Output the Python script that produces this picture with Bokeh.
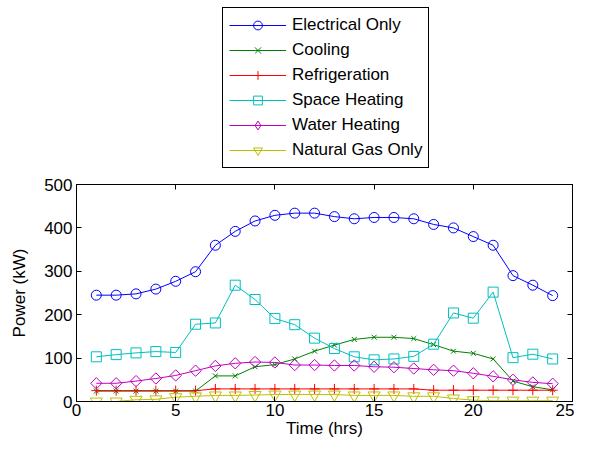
import math
from bokeh.plotting import figure
from bokeh.layouts import column
from bokeh.models import LinearAxis, Legend, LegendItem, FixedTicker
from bokeh.embed import file_html
from bokeh.resources import INLINE

hours = list(range(1, 25))
electrical = [245, 245, 248, 259, 277, 299, 360, 392, 416, 429, 434, 434,
              426, 421, 424, 424, 421, 408, 400, 380, 360, 290, 268, 244]
cooling = [24, 24, 24, 24, 24, 24, 59, 59, 80, 85, 98, 116,
           130, 143, 148, 148, 145, 131, 116, 111, 98, 47, 34, 27]
refrigeration = [25, 25, 25, 25, 25, 25, 29, 29, 29, 29, 29, 29,
                 29, 29, 29, 29, 29, 26, 26, 26, 26, 26, 26, 26]
space_heating = [103, 108, 112, 115, 113, 178, 181, 268, 235, 191, 177, 146,
                 122, 103, 96, 98, 104, 132, 204, 192, 252, 101, 109, 98]
water_heating = [42, 42, 47, 53, 60, 71, 82, 88, 91, 90, 84, 84,
                 83, 83, 80, 79, 76, 73, 71, 65, 58, 50, 44, 41]
natural_gas = [0, 0, 4, 5, 10, 12, 14, 14, 15, 16, 16, 16,
               16, 14, 14, 14, 12, 12, 7, 3, 2, 2, 2, 2]

series_names = ["Electrical Only", "Cooling", "Refrigeration", "Space Heating",
                "Water Heating", "Natural Gas Only"]
x_ticks = [0, 5, 10, 15, 20, 25]
y_ticks = [0, 100, 200, 300, 400, 500]

FONT = "Liberation Sans"
FS = "17px"

# (values, colour, plot marker, size, angle, legend marker)
specs = [
    (electrical, "#0000ff", "circle", 10, 0, "circle"),
    (cooling, "#008000", "x", 7, 0, "x"),
    (refrigeration, "#ff0000", "cross", 10, 0, "cross"),
    (space_heating, "#00bfbf", "square", 10, 0, "square"),
    (water_heating, "#bf00bf", "square", 8, math.pi / 4, "diamond"),
    (natural_gas, "#bfbf00", "inverted_triangle", 12, 0, "inverted_triangle"),
]

LG_H = 170
TOTAL_H = 440

# ---- main plot ----
p = figure(width=574, height=TOTAL_H - LG_H, x_range=(0, 25), y_range=(0, 500),
           output_backend="svg", toolbar_location=None,
           min_border_left=76, min_border_right=2, min_border_top=14,
           min_border_bottom=39)
p.grid.visible = False
p.outline_line_color = "black"
p.outline_line_width = 1
p.background_fill_color = "white"
p.border_fill_color = "white"

def style_axis(ax, ticks):
    ax.ticker = FixedTicker(ticks=ticks)
    ax.major_tick_in = 5
    ax.major_tick_out = 0
    ax.minor_tick_in = 0
    ax.minor_tick_out = 0
    ax.axis_line_color = "black"
    ax.major_tick_line_color = "black"
    ax.major_label_text_font = FONT
    ax.major_label_text_font_size = FS
    ax.major_label_text_color = "black"
    ax.axis_label_text_font = FONT
    ax.axis_label_text_font_size = FS
    ax.axis_label_text_font_style = "normal"
    ax.axis_label_text_color = "black"

style_axis(p.xaxis[0], x_ticks)
style_axis(p.yaxis[0], y_ticks)
p.xaxis.axis_label = "Time (hrs)"
p.yaxis.axis_label = "Power (kW)"
p.xaxis.major_label_standoff = 2
p.xaxis.axis_label_standoff = 0
p.yaxis.major_label_standoff = 4
p.yaxis.axis_label_standoff = 12

top_ax = LinearAxis()
style_axis(top_ax, x_ticks)
top_ax.major_label_text_font_size = "1px"
top_ax.major_label_text_color = None
top_ax.major_label_standoff = 0
p.add_layout(top_ax, "above")
right_ax = LinearAxis()
style_axis(right_ax, y_ticks)
right_ax.major_label_text_font_size = "1px"
right_ax.major_label_text_color = None
right_ax.major_label_standoff = 0
p.add_layout(right_ax, "right")

for vals, color, marker, size, ang, _ in specs:
    p.line(hours, vals, line_color=color, line_width=1)
    p.scatter(hours, vals, marker=marker, size=size, angle=ang,
              line_color=color, fill_color=None, line_width=1)

# ---- legend strip above the plot (same series, drawn out of its view) ----
lg = figure(width=574, height=LG_H, x_range=(0, 25), y_range=(1000, 1001),
            output_backend="svg", toolbar_location=None,
            x_axis_type=None, y_axis_type=None,
            min_border_left=0, min_border_right=0, min_border_top=0,
            min_border_bottom=0)
lg.grid.visible = False
lg.outline_line_color = None
lg.background_fill_color = "white"
lg.border_fill_color = "white"

items = []
for name, (vals, color, _, size, ang, lmarker) in zip(series_names, specs):
    lr = lg.line(hours, vals, line_color=color, line_width=1)
    sr = lg.scatter(hours, vals, marker=lmarker, size=size,
                    line_color=color, fill_color=None, line_width=1)
    items.append(LegendItem(label=name, renderers=[lr, sr]))

legend = Legend(items=items, location=(146, 2))
legend.padding = 6
legend.margin = 0
legend.spacing = 3
legend.glyph_height = 22
legend.glyph_width = 57
legend.label_height = 22
legend.label_standoff = 6
legend.label_text_font = FONT
legend.label_text_font_size = FS
legend.label_text_color = "black"
legend.border_line_color = "black"
legend.border_line_width = 1
legend.border_line_alpha = 1
legend.background_fill_color = "white"
legend.background_fill_alpha = 1
lg.add_layout(legend, "center")

layout = column(lg, p, spacing=0)
open("out.html", "w").write(file_html(layout, INLINE))
